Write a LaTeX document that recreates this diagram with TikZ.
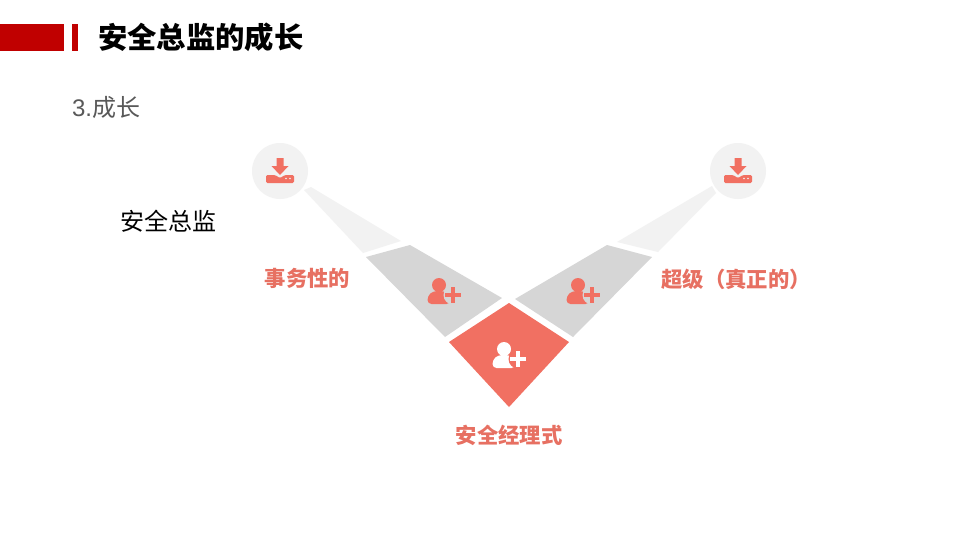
\documentclass[tikz,border=0pt]{standalone}
\usepackage{xcolor}
\usepackage{fontspec}
\usepackage{tikz}
\setmainfont{Liberation Sans}
\newfontfamily\cjk{Noto Sans CJK SC}
\definecolor{barred}{RGB}{192, 0, 0}
\definecolor{coral}{RGB}{241, 112, 98}
\definecolor{labelcoral}{RGB}{231, 112, 98}
\definecolor{wedgegray}{RGB}{214, 214, 214}
\definecolor{wedgefaint}{RGB}{242, 242, 242}
\definecolor{subgray}{RGB}{89, 89, 89}

\tikzset{
    pics/personplus/.style 2 args={code={
        \fill[#1] (0,0) circle (7);
        \fill[#1, rounded corners=3pt] (-11.5,19) -- (-11.5,11) -- (-6,6) -- (6,6) -- (11.5,11) -- (11.5,19) -- cycle;
        \fill[#2] (14,10) circle (9.5);
        \fill[#1] (12,2) rectangle (15.5,18);
        \fill[#1] (6,8.2) rectangle (22,11.8);
    }},
    pics/traydown/.style={code={
        \fill[coral] (-3.5,-13) -- (3.5,-13) -- (3.5,-5) -- (8.5,-5) -- (0,4) -- (-8.5,-5) -- (-3.5,-5) -- cycle;
        \fill[coral, rounded corners=1pt] (-14,4) -- (-5,4) -- (0,7) -- (5,4) -- (14,4) -- (14,12) -- (-14,12) -- cycle;
        \fill[wedgefaint] (6,7.5) circle (0.9) (10,7.5) circle (0.9);
    }}
}

\begin{document}
\begin{tikzpicture}[
    x=0.75pt, y=-0.75pt,
    every node/.style={inner sep=0pt, outer sep=0pt},
    titletext/.style={font=\cjk\bfseries\fontsize{22}{26}\selectfont, anchor=west},
    bodytext/.style={font=\cjk\fontsize{18}{22}\selectfont, anchor=west},
    labeltext/.style={font=\cjk\bfseries\fontsize{16}{20}\selectfont, text=labelcoral},
    badge/.style={circle, fill=wedgefaint, minimum size=42pt}
]

    \useasboundingbox[fill=white] (0,0) rectangle (960,540);

    % header bars
    \fill[barred] (0,24) rectangle (64,51);
    \fill[barred] (72,24) rectangle (78,51);
    \node[titletext] (title) at (98,37) {安全总监的成长};
    \node[bodytext, text=subgray] (section) at (72,107) {{\fontspec{Liberation Sans}3.}成长};
    \node[bodytext, text=black] (director) at (120,221) {安全总监};

    % the V
    \fill[wedgefaint] (304,190) -- (311,187) -- (401,241) -- (363,253) -- cycle;
    \fill[wedgefaint] (617,242) -- (712,186) -- (716,193) -- (658,252) -- cycle;
    \fill[wedgegray] (366,257) -- (410,245) -- (502,298) -- (445,337) -- cycle;
    \fill[wedgegray] (515,299) -- (607,245) -- (652,257) -- (573,337) -- cycle;
    \fill[coral] (509,303) -- (569,342) -- (509,407) -- (449,342) -- cycle;

    \node[badge] (leftbadge) at (280,171) {};
    \node[badge] (rightbadge) at (738,171) {};
    \pic at (leftbadge.center) {traydown};
    \pic at (rightbadge.center) {traydown};

    \pic at (439,285) {personplus={coral}{wedgegray}};
    \pic at (578,285) {personplus={coral}{wedgegray}};
    \pic at (504,349) {personplus={white}{coral}};

    \node[labeltext] (routine) at (307.5,278) {事务性的};
    \node[labeltext] (real) at (736,279) {超级（真正的）};
    \node[labeltext] (manager) at (509,435) {安全经理式};

\end{tikzpicture}
\end{document}
